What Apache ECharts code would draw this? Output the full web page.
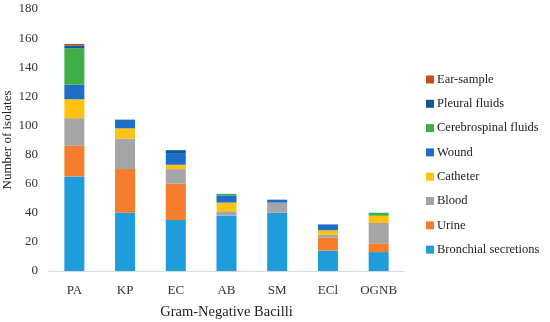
<!DOCTYPE html>
<html><head><meta charset="utf-8">
<script src="https://cdn.jsdelivr.net/npm/echarts@6/dist/echarts.min.js"></script>
<style>html,body{margin:0;padding:0;background:#fff}#c{width:550px;height:322px}</style>
</head><body><div id="c"></div>
<script>
const categories = ['PA','KP','EC','AB','SM','ECl','OGNB'];
const bronchial = [65,40,35,38,40,14,13];
const urine = [21,30,25,0,0,9,6];
const blood = [19,21,10,3,7,2,14];
const catheter = [13,7,3,6,0,3,5];
const wound = [10,6,8,5,2,4,0];
const cerebrospinal = [25,0,0,1,0,0,2];
const pleural = [2,0,2,0,0,0,0];
const earSample = [1,0,0,0,0,0,0];
const yTicks = [0,20,40,60,80,100,120,140,160,180];

const seriesDefs = [
  ['Bronchial secretions', bronchial, '#1F9CDB'],
  ['Urine', urine, '#F57D2B'],
  ['Blood', blood, '#A5A5A5'],
  ['Catheter', catheter, '#FFC20E'],
  ['Wound', wound, '#1C6EC9'],
  ['Cerebrospinal fluids', cerebrospinal, '#3EAE45'],
  ['Pleural fluids', pleural, '#0E5895'],
  ['Ear-sample', earSample, '#C4511C']
];
const font = 'Liberation Serif';
const chart = echarts.init(document.getElementById('c'));
chart.setOption({
  animation: false,
  textStyle: {fontFamily: font},
  grid: {left: 49, right: 146, top: 9, bottom: 51, containLabel: false, outerBoundsMode: 'none'},
  legend: {
    orient: 'vertical', left: 421, top: 68,
    data: seriesDefs.map(s => s[0]).reverse(),
    itemWidth: 8, itemHeight: 8, itemGap: 11.3,
    icon: 'rect',
    textStyle: {fontFamily: font, fontSize: 12.5, color: '#222', padding: [0,0,0,-2]}
  },
  xAxis: {
    type: 'category', data: categories,
    name: 'Gram-Negative Bacilli', nameLocation: 'middle', nameGap: 34, nameMoveOverlap: false,
    nameTextStyle: {fontFamily: font, fontSize: 14.5, color: '#222'},
    axisLine: {lineStyle: {color: '#d9d9d9'}},
    axisTick: {show: false},
    axisLabel: {fontFamily: font, fontSize: 13, color: '#333', margin: 13}
  },
  yAxis: {
    type: 'value', min: 0, max: 180, interval: 20,
    name: 'Number of isolates', nameLocation: 'middle', nameGap: 35, nameMoveOverlap: false,
    nameTextStyle: {fontFamily: font, fontSize: 13, color: '#222'},
    axisLine: {show: false}, axisTick: {show: false},
    splitLine: {show: false},
    axisLabel: {fontFamily: font, fontSize: 13, color: '#333', margin: 11,
      formatter: v => yTicks.includes(v) ? String(v) : ''}
  },
  series: seriesDefs.map(s => ({
    name: s[0], type: 'bar', stack: 'total', data: s[1], barWidth: 20,
    itemStyle: {color: s[2]}
  }))
});
</script></body></html>
